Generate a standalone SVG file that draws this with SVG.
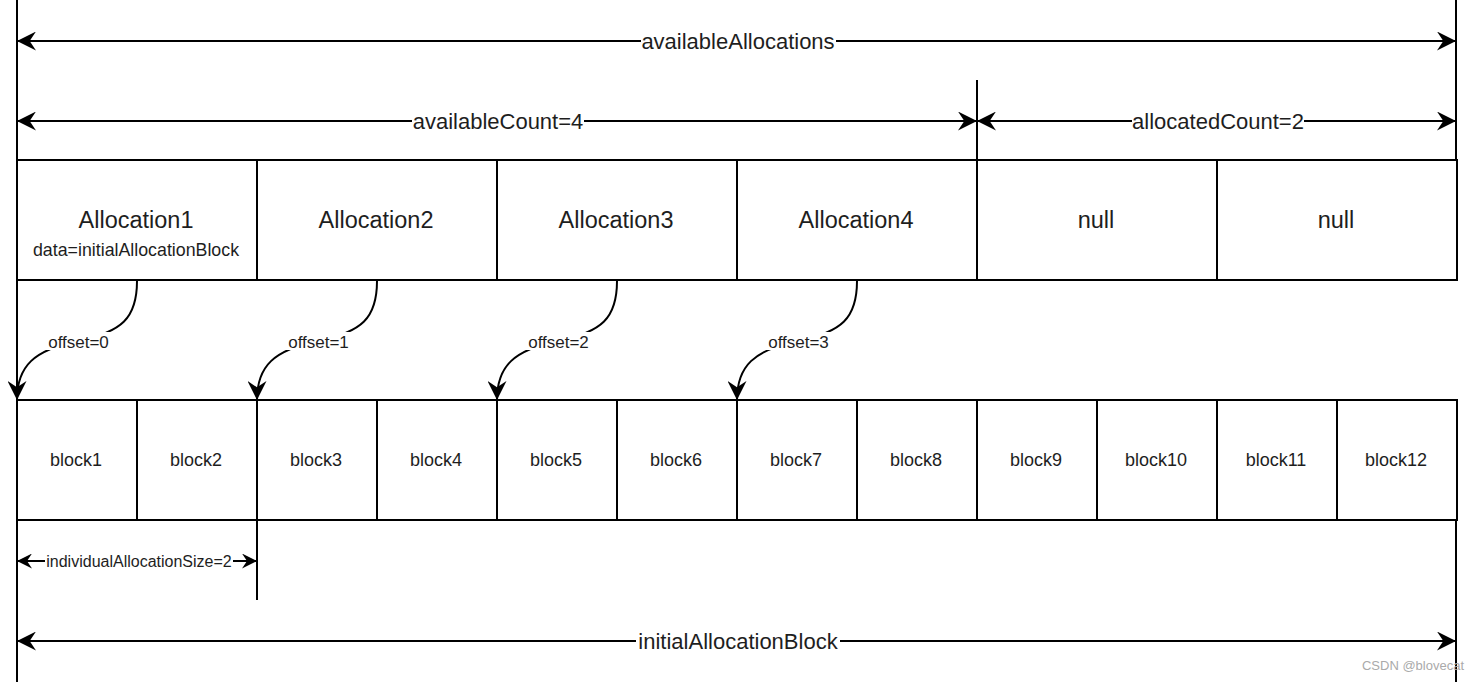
<svg xmlns="http://www.w3.org/2000/svg" width="1476" height="682" viewBox="0 0 1476 682">
<style>
.ln{stroke:#000;stroke-width:2;fill:none}
.cell{fill:#fff;stroke:#000;stroke-width:2}
.t{font-family:"Liberation Sans",Arial,sans-serif;fill:#1e1e1e;text-anchor:middle}
.big{font-size:22px}
.alloc{font-size:23.5px}
.mid{font-size:18px}
.off{font-size:17px}
.sm{font-size:16px}
.bg{fill:#fff}
</style>
<defs>
<marker id="ah" viewBox="0 0 18 18" refX="18" refY="9" markerWidth="19" markerHeight="19" markerUnits="userSpaceOnUse" orient="auto-start-reverse">
<path d="M0,0 L18,9 L0,18 L6,9 Z" fill="#000"/>
</marker>
<marker id="ahs" viewBox="0 0 18 18" refX="18" refY="9" markerWidth="15" markerHeight="15" markerUnits="userSpaceOnUse" orient="auto-start-reverse">
<path d="M0,0 L18,9 L0,18 L6,9 Z" fill="#000"/>
</marker>
</defs>
<rect width="1476" height="682" fill="#fff"/>

<g id="guides">
<line class="ln" x1="17" y1="0" x2="17" y2="682"/>
<line class="ln" x1="1456" y1="0" x2="1456" y2="160"/>
<line class="ln" x1="1456" y1="520" x2="1456" y2="682"/>
<line class="ln" x1="977" y1="80" x2="977" y2="160"/>
<line class="ln" x1="257" y1="520" x2="257" y2="600"/>
</g>

<g id="allocations">
<g id="alloc1"><rect class="cell" x="17" y="160" width="240" height="120"/><text class="t alloc" x="136" y="228">Allocation1</text><text class="t" x="136" y="255.5" style="font-size:17.8px">data=initialAllocationBlock</text></g>
<g id="alloc2"><rect class="cell" x="257" y="160" width="240" height="120"/><text class="t alloc" x="376" y="228">Allocation2</text></g>
<g id="alloc3"><rect class="cell" x="497" y="160" width="240" height="120"/><text class="t alloc" x="616" y="228">Allocation3</text></g>
<g id="alloc4"><rect class="cell" x="737" y="160" width="240" height="120"/><text class="t alloc" x="856" y="228">Allocation4</text></g>
<g id="null1"><rect class="cell" x="977" y="160" width="240" height="120"/><text class="t alloc" x="1096" y="228">null</text></g>
<g id="null2"><rect class="cell" x="1217" y="160" width="240" height="120"/><text class="t alloc" x="1336" y="228">null</text></g>
</g>

<g id="blocks">
<g id="block1"><rect class="cell" x="17" y="400" width="120" height="120"/><text class="t mid" x="76" y="466">block1</text></g>
<g id="block2"><rect class="cell" x="137" y="400" width="120" height="120"/><text class="t mid" x="196" y="466">block2</text></g>
<g id="block3"><rect class="cell" x="257" y="400" width="120" height="120"/><text class="t mid" x="316" y="466">block3</text></g>
<g id="block4"><rect class="cell" x="377" y="400" width="120" height="120"/><text class="t mid" x="436" y="466">block4</text></g>
<g id="block5"><rect class="cell" x="497" y="400" width="120" height="120"/><text class="t mid" x="556" y="466">block5</text></g>
<g id="block6"><rect class="cell" x="617" y="400" width="120" height="120"/><text class="t mid" x="676" y="466">block6</text></g>
<g id="block7"><rect class="cell" x="737" y="400" width="120" height="120"/><text class="t mid" x="796" y="466">block7</text></g>
<g id="block8"><rect class="cell" x="857" y="400" width="120" height="120"/><text class="t mid" x="916" y="466">block8</text></g>
<g id="block9"><rect class="cell" x="977" y="400" width="120" height="120"/><text class="t mid" x="1036" y="466">block9</text></g>
<g id="block10"><rect class="cell" x="1097" y="400" width="120" height="120"/><text class="t mid" x="1156" y="466">block10</text></g>
<g id="block11"><rect class="cell" x="1217" y="400" width="120" height="120"/><text class="t mid" x="1276" y="466">block11</text></g>
<g id="block12"><rect class="cell" x="1337" y="400" width="120" height="120"/><text class="t mid" x="1396" y="466">block12</text></g>
</g>

<g id="connectors">
<line class="ln" x1="17" y1="41" x2="1456" y2="41" marker-start="url(#ah)" marker-end="url(#ah)"/>
<line class="ln" x1="17" y1="121" x2="977" y2="121" marker-start="url(#ah)" marker-end="url(#ah)"/>
<line class="ln" x1="977" y1="121" x2="1456" y2="121" marker-start="url(#ah)" marker-end="url(#ah)"/>
<line class="ln" x1="17" y1="561" x2="257" y2="561" marker-start="url(#ahs)" marker-end="url(#ahs)"/>
<line class="ln" x1="17" y1="641" x2="1456" y2="641" marker-start="url(#ah)" marker-end="url(#ah)"/>
<path class="ln" d="M137,281 C137,318 122,332 78,341 C34,350 17,366 17,400" marker-end="url(#ah)"/>
<path class="ln" d="M377,281 C377,318 362,332 318,341 C274,350 257,366 257,400" marker-end="url(#ah)"/>
<path class="ln" d="M617,281 C617,318 602,332 558,341 C514,350 497,366 497,400" marker-end="url(#ah)"/>
<path class="ln" d="M857,281 C857,318 842,332 798,341 C754,350 737,366 737,400" marker-end="url(#ah)"/>
</g>

<g id="labels">
<rect class="bg" x="641" y="31" width="195" height="20"/>
<text class="t big" x="738" y="49">availableAllocations</text>
<rect class="bg" x="412" y="111" width="172" height="20"/>
<text class="t big" x="498" y="129">availableCount=4</text>
<rect class="bg" x="1132" y="111" width="172" height="20"/>
<text class="t big" x="1218" y="129">allocatedCount=2</text>
<rect class="bg" x="45" y="552" width="188" height="18"/>
<text class="t sm" x="139" y="566.5">individualAllocationSize=2</text>
<rect class="bg" x="636" y="631" width="204" height="20"/>
<text class="t big" x="738" y="649">initialAllocationBlock</text>
<rect class="bg" x="46" y="332" width="65" height="18"/>
<text class="t off" x="78.5" y="347.5">offset=0</text>
<rect class="bg" x="286" y="332" width="65" height="18"/>
<text class="t off" x="318.5" y="347.5">offset=1</text>
<rect class="bg" x="526" y="332" width="65" height="18"/>
<text class="t off" x="558.5" y="347.5">offset=2</text>
<rect class="bg" x="766" y="332" width="65" height="18"/>
<text class="t off" x="798.5" y="347.5">offset=3</text>
<text x="1413" y="670" style="font-family:'Liberation Sans',Arial,sans-serif;font-size:13px;fill:#aaa;text-anchor:middle">CSDN @blovecat</text>
</g>
</svg>
